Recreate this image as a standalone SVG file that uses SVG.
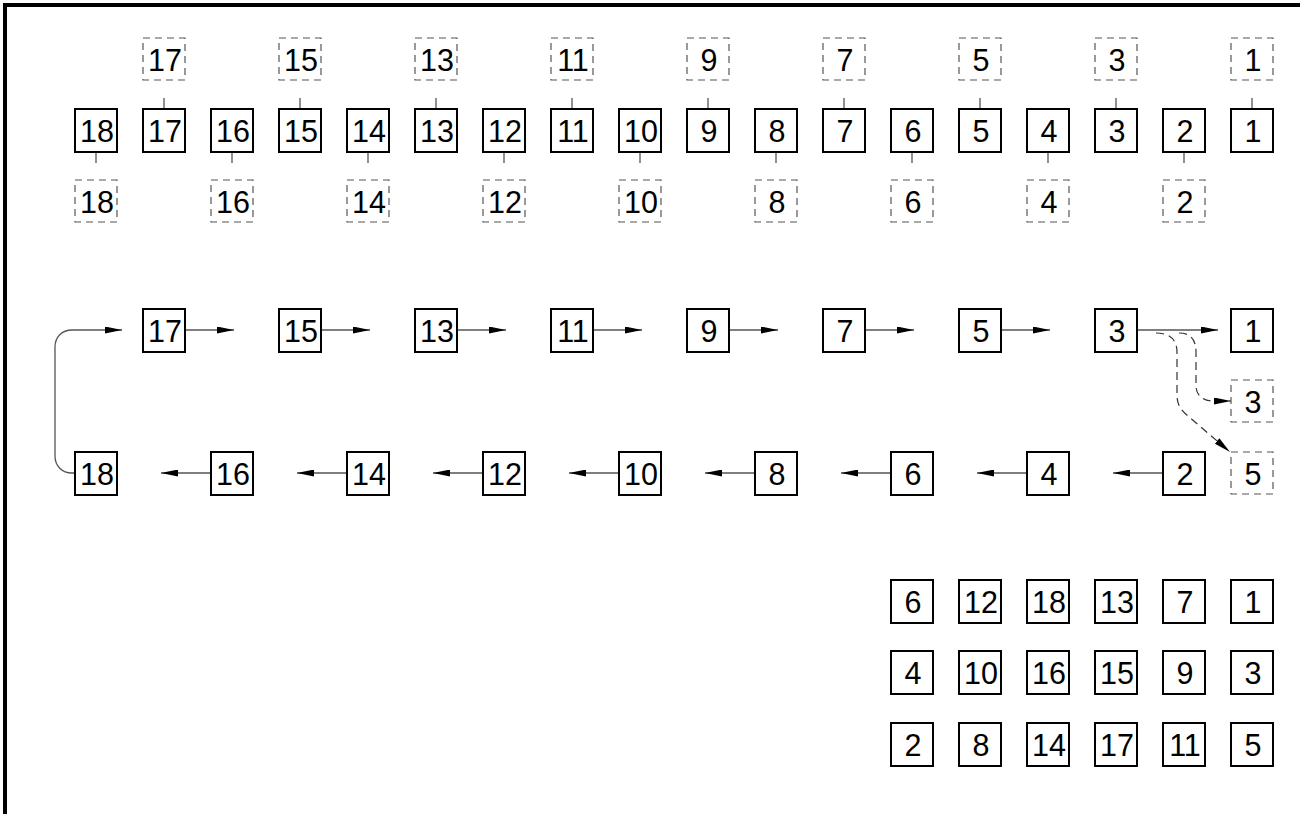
<svg xmlns="http://www.w3.org/2000/svg" width="1300" height="814" viewBox="0 0 1300 814">
<style>
.s{fill:#fff;stroke:#000;stroke-width:2}
.d{fill:#fff;stroke:#555;stroke-width:1.2;stroke-dasharray:7,5}
.t{font-family:"Liberation Sans",Arial,Helvetica,sans-serif;font-size:30.5px;text-anchor:middle;fill:#000}
.c{fill:none;stroke:#555;stroke-width:1.3}
.cd{fill:none;stroke:#333;stroke-width:1.2;stroke-dasharray:8,5}
.a{marker-end:url(#ah)}
</style>
<defs>
<marker id="ah" markerWidth="17" markerHeight="7" refX="17" refY="3.5" orient="auto" markerUnits="userSpaceOnUse"><path d="M0,0 L17,3.5 L0,7 z" fill="#000"/></marker>
</defs>
<rect width="1300" height="814" fill="#fff"/>
<polyline points="5,814 5,5 1300,5" fill="none" stroke="#000" stroke-width="4"/>

<g id="connectors">
<line class="c" x1="164" y1="98" x2="164" y2="109"/>
<line class="c" x1="300" y1="98" x2="300" y2="109"/>
<line class="c" x1="436" y1="98" x2="436" y2="109"/>
<line class="c" x1="572" y1="98" x2="572" y2="109"/>
<line class="c" x1="708" y1="98" x2="708" y2="109"/>
<line class="c" x1="844" y1="98" x2="844" y2="109"/>
<line class="c" x1="980" y1="98" x2="980" y2="109"/>
<line class="c" x1="1116" y1="98" x2="1116" y2="109"/>
<line class="c" x1="1252" y1="98" x2="1252" y2="109"/>
<line class="c" x1="96" y1="152" x2="96" y2="163"/>
<line class="c" x1="232" y1="152" x2="232" y2="163"/>
<line class="c" x1="368" y1="152" x2="368" y2="163"/>
<line class="c" x1="504" y1="152" x2="504" y2="163"/>
<line class="c" x1="640" y1="152" x2="640" y2="163"/>
<line class="c" x1="776" y1="152" x2="776" y2="163"/>
<line class="c" x1="912" y1="152" x2="912" y2="163"/>
<line class="c" x1="1048" y1="152" x2="1048" y2="163"/>
<line class="c" x1="1184" y1="152" x2="1184" y2="163"/>
<line class="c a" x1="185" y1="330" x2="234" y2="330"/>
<line class="c a" x1="321" y1="330" x2="370" y2="330"/>
<line class="c a" x1="457" y1="330" x2="506" y2="330"/>
<line class="c a" x1="593" y1="330" x2="642" y2="330"/>
<line class="c a" x1="729" y1="330" x2="778" y2="330"/>
<line class="c a" x1="865" y1="330" x2="914" y2="330"/>
<line class="c a" x1="1001" y1="330" x2="1050" y2="330"/>
<line class="c a" x1="1137" y1="330" x2="1218" y2="330"/>
<line class="c a" x1="211" y1="473" x2="161" y2="473"/>
<line class="c a" x1="347" y1="473" x2="297" y2="473"/>
<line class="c a" x1="483" y1="473" x2="433" y2="473"/>
<line class="c a" x1="619" y1="473" x2="569" y2="473"/>
<line class="c a" x1="755" y1="473" x2="705" y2="473"/>
<line class="c a" x1="891" y1="473" x2="841" y2="473"/>
<line class="c a" x1="1027" y1="473" x2="977" y2="473"/>
<line class="c a" x1="1163" y1="473" x2="1113" y2="473"/>
<path class="c a" d="M75,473 L72,473 C62,473 55,466 55,456 L55,347 C55,337 62,330 72,330 L122,330"/>
<path class="cd a" d="M1156,333 C1170,333 1177,340 1177,352 L1177,395 C1177,405 1181,410 1188,416 L1230,452"/>
<path class="cd a" d="M1179,333 C1191,333 1196,340 1196,352 L1196,386 C1196,395 1203,401 1213,401 L1231,401"/>
</g>

<g id="t18"><rect class="s" x="75" y="109" width="42" height="43"/><text class="t" x="97" y="142">18</text></g>
<g id="t17"><rect class="s" x="143" y="109" width="42" height="43"/><text class="t" x="165" y="142">17</text></g>
<g id="t16"><rect class="s" x="211" y="109" width="42" height="43"/><text class="t" x="233" y="142">16</text></g>
<g id="t15"><rect class="s" x="279" y="109" width="42" height="43"/><text class="t" x="301" y="142">15</text></g>
<g id="t14"><rect class="s" x="347" y="109" width="42" height="43"/><text class="t" x="369" y="142">14</text></g>
<g id="t13"><rect class="s" x="415" y="109" width="42" height="43"/><text class="t" x="437" y="142">13</text></g>
<g id="t12"><rect class="s" x="483" y="109" width="42" height="43"/><text class="t" x="505" y="142">12</text></g>
<g id="t11"><rect class="s" x="551" y="109" width="42" height="43"/><text class="t" x="573" y="142">11</text></g>
<g id="t10"><rect class="s" x="619" y="109" width="42" height="43"/><text class="t" x="641" y="142">10</text></g>
<g id="t9"><rect class="s" x="687" y="109" width="42" height="43"/><text class="t" x="709" y="142">9</text></g>
<g id="t8"><rect class="s" x="755" y="109" width="42" height="43"/><text class="t" x="777" y="142">8</text></g>
<g id="t7"><rect class="s" x="823" y="109" width="42" height="43"/><text class="t" x="845" y="142">7</text></g>
<g id="t6"><rect class="s" x="891" y="109" width="42" height="43"/><text class="t" x="913" y="142">6</text></g>
<g id="t5"><rect class="s" x="959" y="109" width="42" height="43"/><text class="t" x="981" y="142">5</text></g>
<g id="t4"><rect class="s" x="1027" y="109" width="42" height="43"/><text class="t" x="1049" y="142">4</text></g>
<g id="t3"><rect class="s" x="1095" y="109" width="42" height="43"/><text class="t" x="1117" y="142">3</text></g>
<g id="t2"><rect class="s" x="1163" y="109" width="42" height="43"/><text class="t" x="1185" y="142">2</text></g>
<g id="t1"><rect class="s" x="1231" y="109" width="42" height="43"/><text class="t" x="1253" y="142">1</text></g>

<g id="ta17"><rect class="d" x="143" y="38" width="42" height="42"/><text class="t" x="165" y="71">17</text></g>
<g id="ta15"><rect class="d" x="279" y="38" width="42" height="42"/><text class="t" x="301" y="71">15</text></g>
<g id="ta13"><rect class="d" x="415" y="38" width="42" height="42"/><text class="t" x="437" y="71">13</text></g>
<g id="ta11"><rect class="d" x="551" y="38" width="42" height="42"/><text class="t" x="573" y="71">11</text></g>
<g id="ta9"><rect class="d" x="687" y="38" width="42" height="42"/><text class="t" x="709" y="71">9</text></g>
<g id="ta7"><rect class="d" x="823" y="38" width="42" height="42"/><text class="t" x="845" y="71">7</text></g>
<g id="ta5"><rect class="d" x="959" y="38" width="42" height="42"/><text class="t" x="981" y="71">5</text></g>
<g id="ta3"><rect class="d" x="1095" y="38" width="42" height="42"/><text class="t" x="1117" y="71">3</text></g>
<g id="ta1"><rect class="d" x="1231" y="38" width="42" height="42"/><text class="t" x="1253" y="71">1</text></g>

<g id="tb18"><rect class="d" x="75" y="180" width="42" height="42"/><text class="t" x="97" y="213">18</text></g>
<g id="tb16"><rect class="d" x="211" y="180" width="42" height="42"/><text class="t" x="233" y="213">16</text></g>
<g id="tb14"><rect class="d" x="347" y="180" width="42" height="42"/><text class="t" x="369" y="213">14</text></g>
<g id="tb12"><rect class="d" x="483" y="180" width="42" height="42"/><text class="t" x="505" y="213">12</text></g>
<g id="tb10"><rect class="d" x="619" y="180" width="42" height="42"/><text class="t" x="641" y="213">10</text></g>
<g id="tb8"><rect class="d" x="755" y="180" width="42" height="42"/><text class="t" x="777" y="213">8</text></g>
<g id="tb6"><rect class="d" x="891" y="180" width="42" height="42"/><text class="t" x="913" y="213">6</text></g>
<g id="tb4"><rect class="d" x="1027" y="180" width="42" height="42"/><text class="t" x="1049" y="213">4</text></g>
<g id="tb2"><rect class="d" x="1163" y="180" width="42" height="42"/><text class="t" x="1185" y="213">2</text></g>

<g id="m17"><rect class="s" x="143" y="309" width="42" height="43"/><text class="t" x="165" y="342">17</text></g>
<g id="m15"><rect class="s" x="279" y="309" width="42" height="43"/><text class="t" x="301" y="342">15</text></g>
<g id="m13"><rect class="s" x="415" y="309" width="42" height="43"/><text class="t" x="437" y="342">13</text></g>
<g id="m11"><rect class="s" x="551" y="309" width="42" height="43"/><text class="t" x="573" y="342">11</text></g>
<g id="m9"><rect class="s" x="687" y="309" width="42" height="43"/><text class="t" x="709" y="342">9</text></g>
<g id="m7"><rect class="s" x="823" y="309" width="42" height="43"/><text class="t" x="845" y="342">7</text></g>
<g id="m5"><rect class="s" x="959" y="309" width="42" height="43"/><text class="t" x="981" y="342">5</text></g>
<g id="m3"><rect class="s" x="1095" y="309" width="42" height="43"/><text class="t" x="1117" y="342">3</text></g>
<g id="m1"><rect class="s" x="1231" y="309" width="42" height="43"/><text class="t" x="1253" y="342">1</text></g>
<g id="md3"><rect class="d" x="1231" y="380" width="42" height="42"/><text class="t" x="1253" y="413">3</text></g>

<g id="b18"><rect class="s" x="75" y="452" width="42" height="43"/><text class="t" x="97" y="485">18</text></g>
<g id="b16"><rect class="s" x="211" y="452" width="42" height="43"/><text class="t" x="233" y="485">16</text></g>
<g id="b14"><rect class="s" x="347" y="452" width="42" height="43"/><text class="t" x="369" y="485">14</text></g>
<g id="b12"><rect class="s" x="483" y="452" width="42" height="43"/><text class="t" x="505" y="485">12</text></g>
<g id="b10"><rect class="s" x="619" y="452" width="42" height="43"/><text class="t" x="641" y="485">10</text></g>
<g id="b8"><rect class="s" x="755" y="452" width="42" height="43"/><text class="t" x="777" y="485">8</text></g>
<g id="b6"><rect class="s" x="891" y="452" width="42" height="43"/><text class="t" x="913" y="485">6</text></g>
<g id="b4"><rect class="s" x="1027" y="452" width="42" height="43"/><text class="t" x="1049" y="485">4</text></g>
<g id="b2"><rect class="s" x="1163" y="452" width="42" height="43"/><text class="t" x="1185" y="485">2</text></g>
<g id="bd5"><rect class="d" x="1231" y="452" width="42" height="42"/><text class="t" x="1253" y="485">5</text></g>

<g id="g1-6"><rect class="s" x="891" y="580" width="42" height="43"/><text class="t" x="913" y="613">6</text></g>
<g id="g1-12"><rect class="s" x="959" y="580" width="42" height="43"/><text class="t" x="981" y="613">12</text></g>
<g id="g1-18"><rect class="s" x="1027" y="580" width="42" height="43"/><text class="t" x="1049" y="613">18</text></g>
<g id="g1-13"><rect class="s" x="1095" y="580" width="42" height="43"/><text class="t" x="1117" y="613">13</text></g>
<g id="g1-7"><rect class="s" x="1163" y="580" width="42" height="43"/><text class="t" x="1185" y="613">7</text></g>
<g id="g1-1"><rect class="s" x="1231" y="580" width="42" height="43"/><text class="t" x="1253" y="613">1</text></g>

<g id="g2-4"><rect class="s" x="891" y="651" width="42" height="43"/><text class="t" x="913" y="684">4</text></g>
<g id="g2-10"><rect class="s" x="959" y="651" width="42" height="43"/><text class="t" x="981" y="684">10</text></g>
<g id="g2-16"><rect class="s" x="1027" y="651" width="42" height="43"/><text class="t" x="1049" y="684">16</text></g>
<g id="g2-15"><rect class="s" x="1095" y="651" width="42" height="43"/><text class="t" x="1117" y="684">15</text></g>
<g id="g2-9"><rect class="s" x="1163" y="651" width="42" height="43"/><text class="t" x="1185" y="684">9</text></g>
<g id="g2-3"><rect class="s" x="1231" y="651" width="42" height="43"/><text class="t" x="1253" y="684">3</text></g>

<g id="g3-2"><rect class="s" x="891" y="723" width="42" height="43"/><text class="t" x="913" y="756">2</text></g>
<g id="g3-8"><rect class="s" x="959" y="723" width="42" height="43"/><text class="t" x="981" y="756">8</text></g>
<g id="g3-14"><rect class="s" x="1027" y="723" width="42" height="43"/><text class="t" x="1049" y="756">14</text></g>
<g id="g3-17"><rect class="s" x="1095" y="723" width="42" height="43"/><text class="t" x="1117" y="756">17</text></g>
<g id="g3-11"><rect class="s" x="1163" y="723" width="42" height="43"/><text class="t" x="1185" y="756">11</text></g>
<g id="g3-5"><rect class="s" x="1231" y="723" width="42" height="43"/><text class="t" x="1253" y="756">5</text></g>
</svg>
